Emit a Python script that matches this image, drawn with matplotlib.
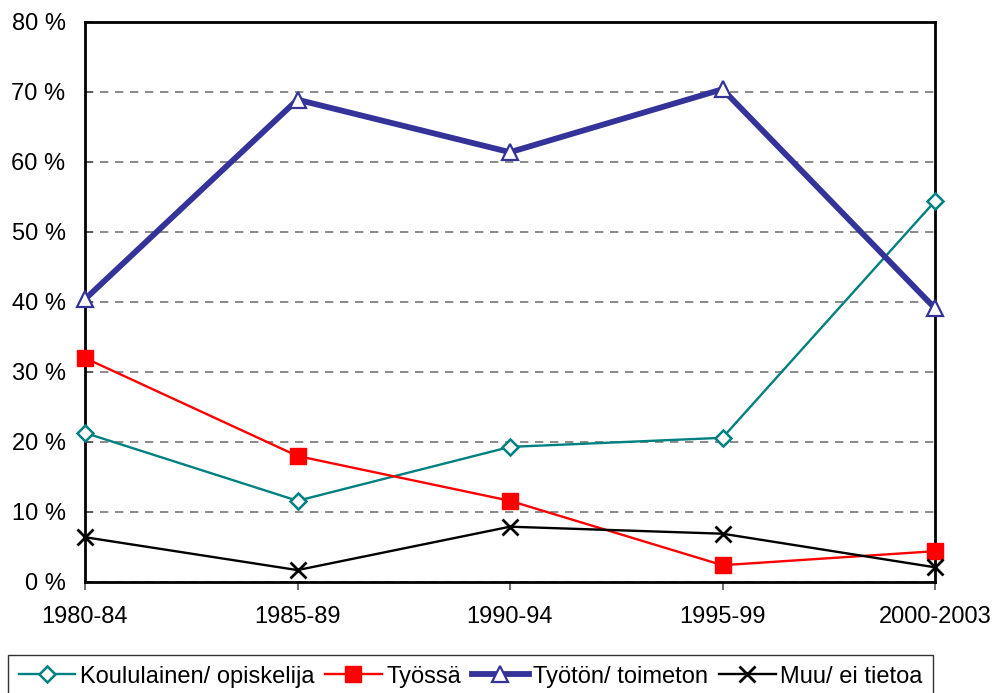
import matplotlib
matplotlib.use('Agg')
from matplotlib import pyplot as plt
from matplotlib.ticker import FuncFormatter

plt.rcParams['font.family'] = ['Liberation Sans', 'DejaVu Sans']

periods = ['1980-84', '1985-89', '1990-94', '1995-99', '2000-2003']
koululainen = [21.3, 11.6, 19.3, 20.6, 54.4]
tyossa = [32.0, 18.0, 11.6, 2.4, 4.4]
tyoton = [40.4, 68.9, 61.4, 70.4, 39.1]
muu = [6.4, 1.7, 7.9, 6.9, 2.1]

fig = plt.figure(figsize=(9.95, 6.93), dpi=100)
ax = fig.add_axes([85/995, 111/693, 850/995, 560/693])

x = range(len(periods))
l1, = ax.plot(x, koululainen, color='#008080', lw=1.7, marker='D', ms=8.5,
              mfc='white', mec='#008080', mew=1.8, label='Koululainen/ opiskelija', clip_on=False, zorder=3)
l2, = ax.plot(x, tyossa, color='#ff0000', lw=1.7, marker='s', ms=11,
              mfc='#ff0000', mec='#ff0000', label='Työssä', clip_on=False, zorder=3)
l3, = ax.plot(x, tyoton, color='#333399', lw=4.2, marker='^', ms=11,
              mfc='white', mec='#333399', mew=1.6, label='Työtön/ toimeton', clip_on=False, zorder=3)
l4, = ax.plot(x, muu, color='black', lw=1.7, marker='x', ms=11, mew=2,
              label='Muu/ ei tietoa', clip_on=False, zorder=3)

ax.set_xlim(0, 4)
ax.set_ylim(0, 80)
ax.set_xticks(list(x))
ax.set_xticklabels(periods)
ax.set_yticks(range(0, 81, 10))
ax.yaxis.set_major_formatter(FuncFormatter(lambda v, p: '%d %%' % v))
ax.tick_params(labelsize=17, length=6, color='#555555', width=1.2)
ax.tick_params(axis='x', direction='out', pad=11)
ax.tick_params(axis='y', direction='in', pad=14)
for s in ax.spines.values():
    s.set_linewidth(2)
ax.grid(axis='y', linestyle=(0, (5, 4)), color='#777777', lw=1.2)
ax.set_axisbelow(True)

fig.legend(handles=[l1, l2, l3, l4], loc='upper left', bbox_to_anchor=(8/995, 1 - 655/693),
           ncol=4, fontsize=17, frameon=True, fancybox=False, edgecolor='black',
           handlelength=2.4, handletextpad=0.2, columnspacing=0.45, borderpad=0.45, borderaxespad=0)

fig.savefig('out.png', dpi=100)
